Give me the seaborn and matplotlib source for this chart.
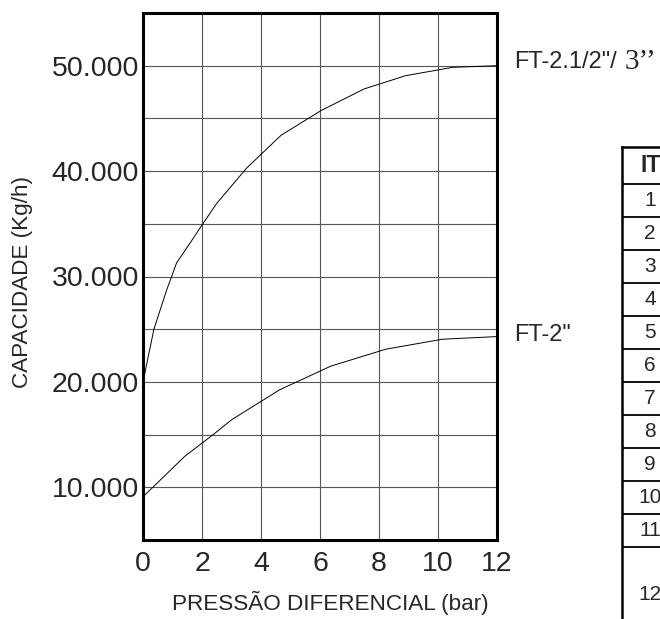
import pandas as pd
import seaborn as sns
import matplotlib.pyplot as plt

# Curvas de capacidade
pressao_ft212 = [0, 0.37, 0.8, 1.14, 1.59, 2.04, 2.49, 3.5, 4.68, 6.04, 7.5, 8.9, 10.5, 12]
capacidade_ft212 = [20000, 25000, 28700, 31300, 33150, 35050, 36900, 40250, 43400, 45750, 47800, 49050, 49850, 50000]

pressao_ft2 = [0, 1.42, 2.38, 3.0, 4.63, 6.37, 8.23, 10.15, 12]
capacidade_ft2 = [9100, 12950, 15000, 16400, 19250, 21500, 23100, 24050, 24300]

# Eixos
xticks = [0, 2, 4, 6, 8, 10, 12]
yticks = [10000, 20000, 30000, 40000, 50000]
ytick_labels = ["10.000", "20.000", "30.000", "40.000", "50.000"]
yticks_menores = [5000, 15000, 25000, 35000, 45000, 55000]

# Tabela (parcialmente visível)
itens = ["1", "2", "3", "4", "5", "6", "7", "8", "9", "10", "11", "12"]

sns.set_theme(style="white")
plt.rcParams['font.family'] = ['Liberation Sans', 'DejaVu Sans']

df = pd.concat([
    pd.DataFrame({"pressao": pressao_ft212, "capacidade": capacidade_ft212, "modelo": "FT-2.1/2\"/ 3''"}),
    pd.DataFrame({"pressao": pressao_ft2, "capacidade": capacidade_ft2, "modelo": "FT-2\""}),
])

fig = plt.figure(figsize=(6.6, 6.19), dpi=100)
ax = fig.add_axes([143 / 660, 79 / 619, 354 / 660, 527 / 619])

sns.lineplot(data=df, x="pressao", y="capacidade", hue="modelo",
             palette=["black", "black"], legend=False, linewidth=0.7,
             sort=False, ax=ax, zorder=3)

ax.set_xlim(0, 12)
ax.set_ylim(5000, 55000)
ax.set_xticks(xticks)
ax.set_xticklabels([str(v) for v in xticks])
ax.set_yticks(yticks)
ax.set_yticklabels(ytick_labels)
ax.set_yticks(yticks_menores, minor=True)
ax.grid(True, which="both", color="#555555", linewidth=0.8)
ax.tick_params(which="both", length=0)
ax.tick_params(axis="x", labelsize=20.5, pad=8)
ax.tick_params(axis="y", labelsize=20.5, pad=3)

for s in ax.spines.values():
    s.set_color("black")
    s.set_linewidth(2.2)
    s.set_zorder(5)

ax.set_xlabel("PRESSÃO DIFERENCIAL (bar)", fontsize=16.2)
ax.set_ylabel("CAPACIDADE (Kg/h)", fontsize=16.2)
ax.xaxis.label.set_va("center")
ax.yaxis.label.set_va("center")
ax.xaxis.set_label_coords(0.53, -0.12)
ax.yaxis.set_label_coords(-0.34, 0.49)

# Rótulos das curvas
t1 = ax.annotate("FT-2.1/2\"/", xy=(pressao_ft212[-1], capacidade_ft212[-1]),
                 xytext=(12, 3), textcoords="offset points", va="center",
                 fontsize=17, annotation_clip=False)
ax.annotate("3’’", xy=(1, 0.5), xycoords=t1, xytext=(6, 0),
            textcoords="offset points", va="center", fontsize=21,
            family=["Liberation Serif", "DejaVu Serif"])
ax.annotate("FT-2\"", xy=(pressao_ft2[-1], capacidade_ft2[-1]),
            xytext=(12, 1), textcoords="offset points", va="center",
            fontsize=17, annotation_clip=False)

# Tabela à direita, cortada pela borda da figura
tab = fig.add_axes([622 / 660, 0, 60 / 660, 472 / 619])
tab.set_xlim(0, 60)
tab.set_ylim(472, 0)
tab.set_xticks([])
tab.set_yticks([])
tab.set_facecolor("none")
for lado in ["right", "bottom"]:
    tab.spines[lado].set_visible(False)
for lado in ["left", "top"]:
    tab.spines[lado].set_linewidth(1.8)
    tab.spines[lado].set_color("black")

cab = 37
linha = 33
tab.axhline(cab, color="black", linewidth=1.3)
for i in range(len(itens) - 1):
    tab.axhline(cab + linha * (i + 1), color="black", linewidth=1.3)
tab.text(18, cab / 2, "ITEM", ha="left", va="center", fontsize=16.5, fontweight="bold")
for i, it in enumerate(itens[:-1]):
    tab.text(28, cab + linha * (i + 0.5), it, ha="center", va="center", fontsize=15)
tab.text(28, 448, itens[-1], ha="center", va="center", fontsize=15)

fig.savefig("out.png", dpi=100)
